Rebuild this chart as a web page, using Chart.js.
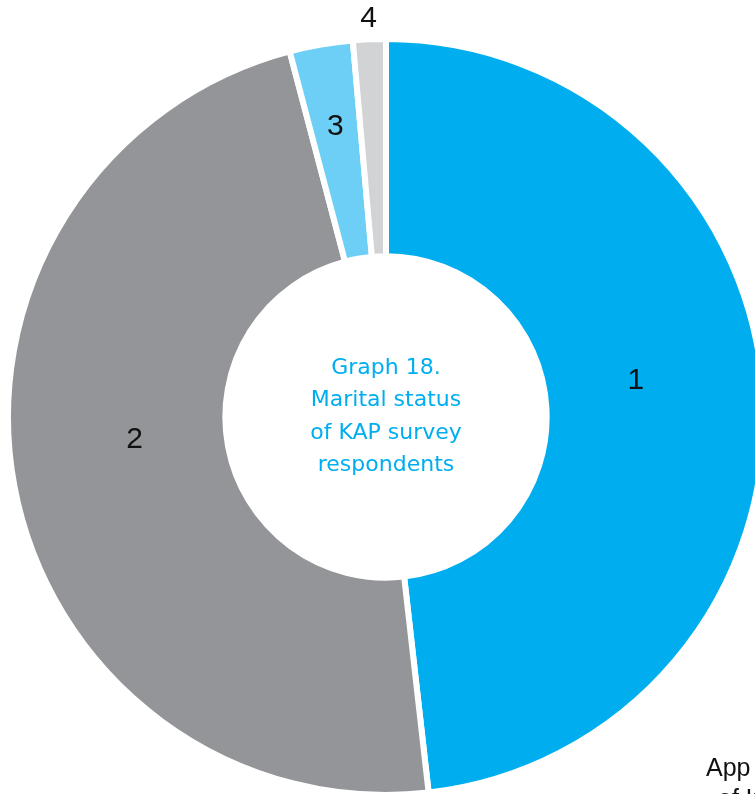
<!DOCTYPE html>
<html>
<head>
<meta charset="utf-8">
<script src="https://cdn.jsdelivr.net/npm/chart.js@4/dist/chart.umd.min.js"></script>
<style>
    html, body { margin: 0; padding: 0; background: #fff; overflow: hidden; width: 755px; height: 794px; }
    #wrap { position: absolute; left: 5px; top: 0; width: 762px; height: 798px; }
    .side { position: absolute; font-family: 'Liberation Sans', Arial, sans-serif; font-size: 25px; color: #111; white-space: nowrap; }
</style>
</head>
<body>
<div id="wrap"><canvas id="maritalChart" width="762" height="798"></canvas></div>
<div class="side" style="left: 706px; top: 753px;">App</div>
<div class="side" style="left: 718px; top: 784px;">of K</div>
<script>
// slices, clockwise from the top
const categories = ['1', '2', '3', '4'];
const shares = [48.2, 47.7, 2.7, 1.4];
const sliceColors = ['#00aeef', '#939598', '#6dcff6', '#d1d3d4'];
const centerLines = ['Graph 18.', 'Marital status', 'of KAP survey', 'respondents'];

// where each number sits: fraction of outer radius, nudge in degrees off the mid angle
const labelSpots = [
    { r: 0.668, turn: -5 },
    { r: 0.668, turn: 5.4 },
    { r: 0.78, turn: 0 },
    { r: 1.054, turn: 0 },
];

const sliceLabels = {
    id: 'sliceLabels',
    afterDatasetsDraw(chart) {
        const { ctx } = chart;
        const arcs = chart.getDatasetMeta(0).data;
        ctx.save();
        ctx.font = '30px "Liberation Sans", Arial, sans-serif';
        ctx.fillStyle = '#111';
        ctx.textAlign = 'center';
        ctx.textBaseline = 'middle';
        arcs.forEach((arc, i) => {
            const { x, y, startAngle, endAngle, outerRadius } = arc.getProps(['x', 'y', 'startAngle', 'endAngle', 'outerRadius'], true);
            const spot = labelSpots[i];
            const a = (startAngle + endAngle) / 2 + (spot.turn * Math.PI) / 180;
            const r = outerRadius * spot.r;
            ctx.fillText(categories[i], x + Math.cos(a) * r, y + Math.sin(a) * r);
        });

        const first = arcs[0];
        ctx.font = '22px "DejaVu Sans", sans-serif';
        ctx.fillStyle = '#00aeef';
        const lineH = 32.5;
        const top = first.y - ((centerLines.length - 1) * lineH) / 2;
        centerLines.forEach((line, i) => ctx.fillText(line, first.x, top + i * lineH));
        ctx.restore();
    },
};

new Chart(document.getElementById('maritalChart'), {
    type: 'doughnut',
    data: {
        labels: categories,
        datasets: [
            {
                data: shares,
                backgroundColor: sliceColors,
                borderColor: '#ffffff',
                borderWidth: 6,
            },
        ],
    },
    options: {
        responsive: false,
        animation: false,
        cutout: '42.5%',
        layout: { padding: { top: 36 } },
        plugins: { legend: { display: false }, tooltip: { enabled: false } },
    },
    plugins: [sliceLabels],
});
</script>
</body>
</html>
